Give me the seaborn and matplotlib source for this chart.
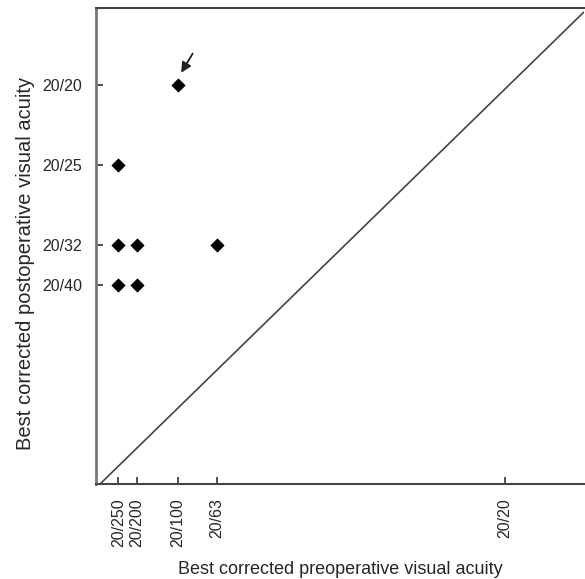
import pandas as pd
import seaborn as sns
import matplotlib.pyplot as plt

# axis positions of each acuity label (decimal-acuity-like scale)
x_labels = ['20/250', '20/200', '20/100', '20/63', '20/20']
x_pos = [0.055, 0.10, 0.20, 0.295, 1.0]
y_labels = ['20/20', '20/25', '20/32', '20/40']
y_pos = [1.0, 0.80, 0.60, 0.50]

# cases: preoperative vs postoperative best corrected acuity
pre = ['20/250', '20/250', '20/200', '20/63', '20/250', '20/200', '20/100']
post = ['20/25', '20/32', '20/32', '20/32', '20/40', '20/40', '20/20']

xmap = dict(zip(x_labels, x_pos))
ymap = dict(zip(y_labels, y_pos))
df = pd.DataFrame({'pre': [xmap[p] for p in pre], 'post': [ymap[p] for p in post]})

sns.set_style('white')
plt.rcParams['font.family'] = ['Liberation Sans', 'DejaVu Sans']

fig = plt.figure(figsize=(5.85, 5.79), dpi=100)
ax = fig.add_axes([0.164, 0.164, 0.834, 0.822])

lim = 1.193
ax.plot([0.01, lim], [0, lim - 0.01], color='#444444', lw=1.2, zorder=1)
sns.scatterplot(data=df, x='pre', y='post', marker='D', s=44, color='black',
                edgecolor='black', linewidth=0.6, ax=ax, zorder=3)

ax.annotate('', xy=(0.205, 1.025), xytext=(0.240, 1.085),
            arrowprops=dict(arrowstyle='-|>', color='#222222', lw=1.3, mutation_scale=15))

ax.set_xlim(0, lim)
ax.set_ylim(0, lim)
ax.set_xticks(x_pos)
ax.set_xticklabels(x_labels, rotation=90, fontsize=11.5)
ax.set_yticks(y_pos)
ax.set_yticklabels(y_labels, fontsize=11.5)
ax.tick_params(bottom=True, left=True, direction='in', length=5, width=1.2,
               color='#333333', pad=10)

for side in ['left', 'bottom', 'top']:
    ax.spines[side].set_color('#444444')
    ax.spines[side].set_linewidth(1.5)
ax.spines['left'].set_color('#777777')
ax.spines['left'].set_linewidth(2)
ax.spines['right'].set_visible(False)

ax.set_xlabel('Best corrected preoperative visual acuity', fontsize=13, labelpad=10)
ax.set_ylabel('Best corrected postoperative visual acuity', fontsize=14.5, labelpad=8)
ax.yaxis.set_label_coords(-0.125, 0.464)

fig.savefig('out.png', dpi=100)
